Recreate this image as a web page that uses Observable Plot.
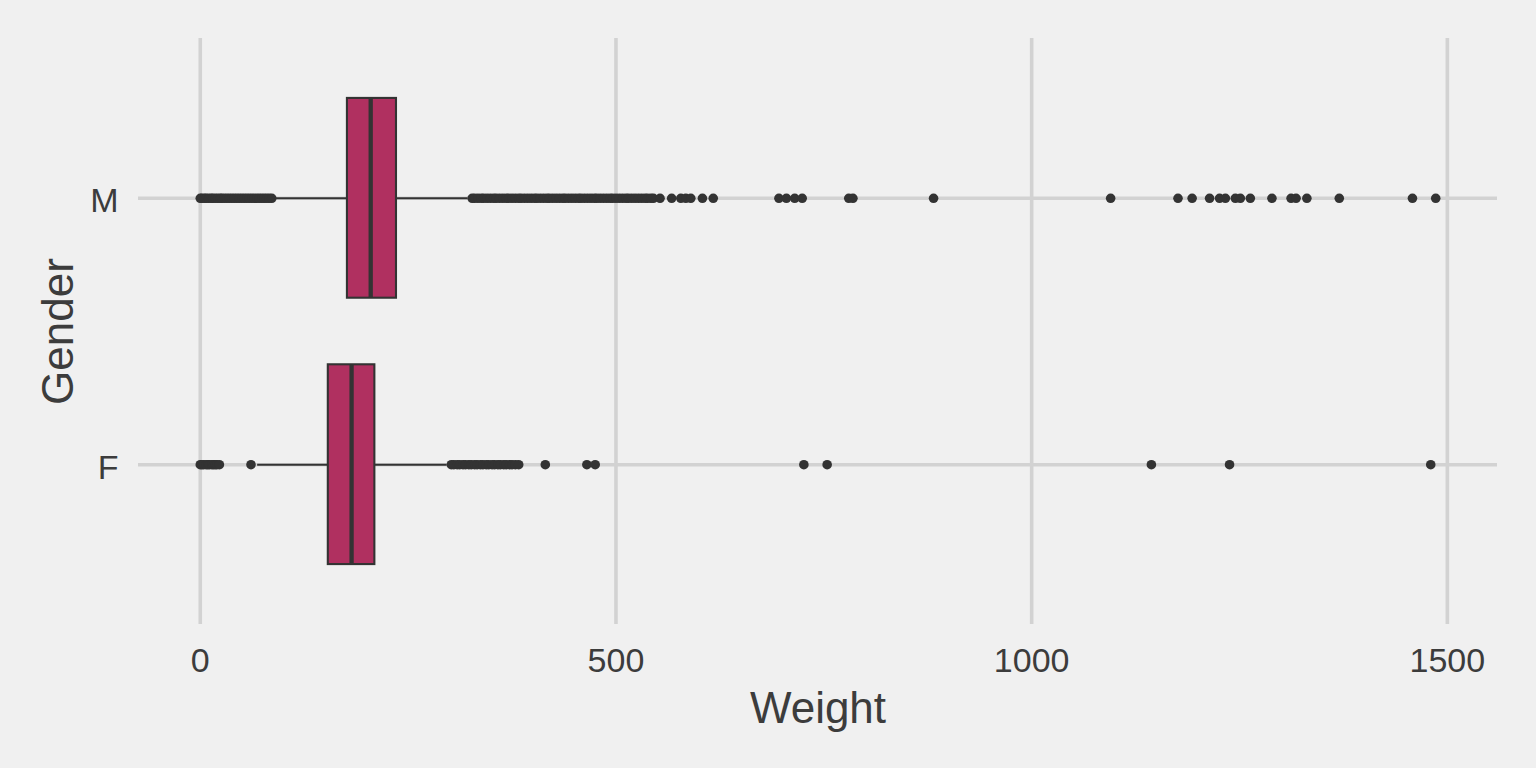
<!DOCTYPE html>
<html>
<head>
<meta charset="utf-8">
<script src="https://cdn.jsdelivr.net/npm/d3@7"></script>
<script src="https://cdn.jsdelivr.net/npm/@observablehq/plot@0.6"></script>
<style>
  html, body { margin: 0; padding: 0; background: #F0F0F0; }
</style>
</head>
<body>
<div id="chart"></div>
<script>
// ---- data ----
const genders = ["F", "M"];
const q1 = [154, 177];
const median = [182, 205];
const q3 = [210, 236];
const whiskerLow = [69, 90];
const whiskerHigh = [297, 322];

const outliersF = [
  0, 2, 4, 7, 9, 11, 14, 16, 18, 20, 23,
  61,
  302, 305, 309, 312, 316, 319, 323, 326, 330, 333, 337, 340, 344, 347, 351,
  354, 358, 361, 365, 368, 372, 375, 379, 383,
  415, 465, 475, 726, 754, 1144, 1238, 1480
];
const outliersM = [
  0, 2, 5, 7, 10, 13, 15, 18, 21, 24, 26, 29, 32, 35, 38, 41, 44, 47, 50, 53,
  56, 59, 62, 65, 68, 71, 74, 77, 80, 83, 86,
  327, 330, 334, 338, 341, 345, 349, 353, 356, 360, 364, 368, 371, 375, 379,
  383, 386, 390, 394, 398, 402, 405, 409, 413, 417, 420, 424, 428, 432, 436,
  439, 443, 447, 451, 455, 458, 462, 466, 470, 474, 477, 481, 485, 489, 493,
  496, 500, 504, 508, 512, 515, 519, 523, 527, 531, 535, 538, 542, 545,
  553, 567, 578, 584, 590, 604, 617, 696, 705, 715, 724, 780, 785, 882,
  1095, 1176, 1193, 1214, 1226, 1233, 1245, 1251, 1263, 1289, 1312, 1318,
  1331, 1370, 1458, 1486
];
const xTicks = [0, 500, 1000, 1500];
const xLabel = "Weight";
const yLabel = "Gender";

// ---- tables for the library ----
const boxHalf = 0.375;
const boxes = genders.map((g, i) => ({
  g, pos: i + 1, q1: q1[i], median: median[i], q3: q3[i],
  lo: whiskerLow[i], hi: whiskerHigh[i]
}));
const outliers = [
  ...outliersF.map(w => ({g: "F", pos: 1, w})),
  ...outliersM.map(w => ({g: "M", pos: 2, w}))
];
const yPositions = genders.map((g, i) => i + 1);

const ink = "#333333";
const textColor = "#3C3C3C";
const gridColor = "#D2D2D2";

const chart = Plot.plot({
  width: 1536,
  height: 768,
  marginLeft: 138,
  marginRight: 39,
  marginTop: 38,
  marginBottom: 144,
  style: {
    background: "#F0F0F0",
    fontFamily: "'Liberation Sans', Arial, sans-serif",
    fontSize: "34px",
    color: textColor
  },
  x: {domain: [-74.3, 1560.3]},
  y: {domain: [0.4, 2.6]},
  marks: [
    Plot.gridX(xTicks, {stroke: gridColor, strokeOpacity: 1, strokeWidth: 3.6}),
    Plot.gridY(yPositions, {stroke: gridColor, strokeOpacity: 1, strokeWidth: 3.6}),
    Plot.axisX(xTicks, {
      tickSize: 0, tickPadding: 23.5, label: null, fill: textColor,
      fontSize: 34, tickFormat: d => String(d)
    }),
    Plot.axisY(yPositions, {
      tickSize: 0, tickPadding: 20, label: null, fill: textColor, dy: 3,
      fontSize: 34, tickFormat: p => genders[p - 1]
    }),
    Plot.dot(outliers, {x: "w", y: "pos", r: 4.8, fill: ink, stroke: null}),
    Plot.ruleY(boxes, {y: "pos", x1: "lo", x2: "hi", stroke: ink, strokeWidth: 2.1}),
    Plot.rect(boxes, {
      x1: "q1", x2: "q3",
      y1: d => d.pos - boxHalf, y2: d => d.pos + boxHalf,
      fill: "#B03060", stroke: ink, strokeWidth: 2.1
    }),
    Plot.ruleX(boxes, {
      x: "median", y1: d => d.pos - boxHalf, y2: d => d.pos + boxHalf,
      stroke: ink, strokeWidth: 4.3
    }),
    Plot.text([xLabel], {
      text: d => d, frameAnchor: "bottom", lineAnchor: "bottom", textAnchor: "middle",
      dy: 98, fontSize: 44, fill: textColor
    }),
    Plot.text([yLabel], {
      text: d => d, frameAnchor: "left", lineAnchor: "bottom", textAnchor: "middle",
      rotate: -90, dx: -66, fontSize: 44, fill: textColor
    })
  ]
});
document.getElementById("chart").appendChild(chart);
</script>
</body>
</html>
